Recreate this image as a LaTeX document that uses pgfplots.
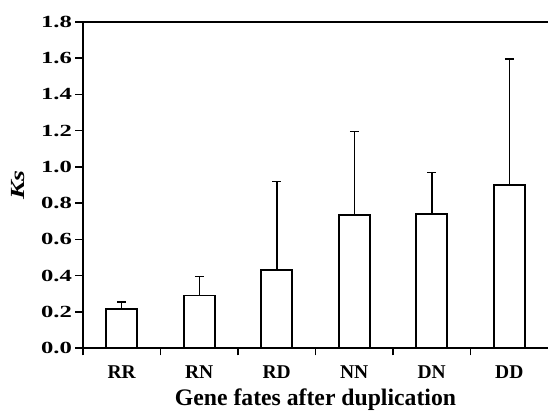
\documentclass[border=0pt]{standalone}
\usepackage{fontspec}
\setmainfont{Liberation Serif}
\usepackage{graphicx}
\usepackage{pgfplots}
\pgfplotsset{compat=1.18}

% mean Ks and upper error (sd)
\pgfplotstableread{
x  ks     err
0  0.215  0.040
1  0.290  0.105
2  0.430  0.490
3  0.735  0.460
4  0.740  0.230
5  0.900  0.695
}\ksdata

\begin{document}
\begin{tikzpicture}
\begin{axis}[
  scale only axis, width=465pt, height=326pt,
  axis x line*=box, axis y line*=left,
  axis line style={line width=1.5pt},
  xmin=-0.5, xmax=5.5, ymin=0, ymax=1.8,
  ytick={0,0.2,...,1.8},
  xtick={0,1,2,3,4,5},
  xticklabels={RR,RN,RD,NN,DN,DD},
  minor xtick={-0.5,0.5,1.5,2.5,3.5,4.5},
  major x tick style={draw=none},
  xtick pos=bottom, ytick pos=left,
  tick align=outside,
  major tick length=7.5pt, minor tick length=7.5pt,
  tick style={line width=1.5pt, black},
  /pgf/number format/assume math mode=true,
  yticklabel={\scalebox{1.45}[1]{\pgfmathprintnumber[fixed,fixed zerofill,precision=1]{\tick}}},
  yticklabel style={font=\fontsize{17}{17}\selectfont\bfseries},
  xticklabel style={font=\fontsize{19.5}{19.5}\selectfont\bfseries, anchor=base, yshift=-23pt},
  xlabel={Gene fates after duplication},
  xlabel style={font=\fontsize{23.7}{23.7}\selectfont\bfseries,
    at={(axis description cs:0.5,0)}, anchor=base, yshift=-58pt},
  ylabel={\scalebox{1.4}[1]{\textbf{\textit{Ks}}}},
  ylabel style={font=\fontsize{20}{20}\selectfont,
    at={(axis description cs:-0.1398,0.5)}, anchor=center},
  clip=false,
]
\addplot[ybar, bar width=31pt, fill=white, draw=black, line width=1.6pt,
  error bars/.cd, y dir=plus, y explicit,
  error bar style={line width=1.5pt},
  error mark options={rotate=90, line width=1.5pt, mark size=4.5pt}]
  table[x=x, y=ks, y error=err] {\ksdata};
\end{axis}
\pgfresetboundingbox
\path (current axis.south west) ++(-83pt,-63pt) rectangle ++(548pt,411pt);
\end{tikzpicture}
\end{document}
